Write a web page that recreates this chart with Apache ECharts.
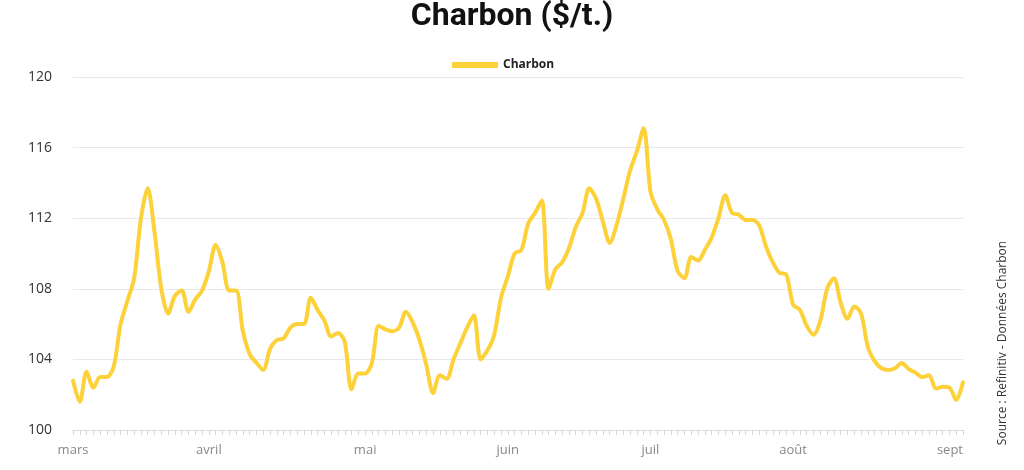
<!DOCTYPE html>
<html>
<head>
<meta charset="utf-8">
<script src="https://cdn.jsdelivr.net/npm/echarts@6/dist/echarts.min.js"></script>
<style>
  html, body { margin: 0; padding: 0; background: #fff; }
  #chart { width: 1024px; height: 470px; }
</style>
</head>
<body>
<div id="chart"></div>
<script>
// Series values (one per trading day)
const charbon = [
  102.8, 101.6, 103.3, 102.4, 103.0, 103.0, 103.6, 106.0, 107.3, 108.6,
  112.0, 113.7, 111.2, 108.0, 106.6, 107.6, 107.9, 106.7, 107.4, 107.9,
  109.0, 110.5, 109.5, 107.9, 107.9, 105.6, 104.3, 103.8, 103.4, 104.6,
  105.1, 105.2, 105.8, 106.0, 106.0, 107.5, 106.8, 106.2, 105.3, 105.5,
  105.0, 102.3, 103.2, 103.2, 103.8, 105.9, 105.7, 105.6, 105.8, 106.7,
  106.1, 105.1, 103.7, 102.1, 103.1, 102.9, 104.0, 104.9, 105.8, 106.5,
  104.0, 104.5, 105.4, 107.5, 108.7, 110.0, 110.2, 111.7, 112.3, 113.0,
  108.0, 109.1, 109.5, 110.3, 111.5, 112.3, 113.7, 113.1, 111.8, 110.6,
  111.6, 113.1, 114.7, 115.8, 117.1, 113.5, 112.5, 111.9, 110.8, 109.0,
  108.6, 109.8, 109.6, 110.2, 110.9, 112.0, 113.3, 112.3, 112.2, 111.9,
  111.9, 111.6, 110.4, 109.5, 108.9, 108.8, 107.1, 106.8, 105.9, 105.4,
  106.2, 108.0, 108.6, 107.2, 106.3, 107.0, 106.6, 104.7, 103.9, 103.5,
  103.4, 103.5, 103.8, 103.45, 103.25, 103.0, 103.1, 102.35, 102.45, 102.4,
  101.7, 102.7
];
// Category = trading-day index
const categories = charbon.map((_, i) => String(i));
// Month tick labels and the trading-day index at which they appear
const monthTicks = [0, 20, 43, 64, 85, 106, 131];
const monthLabels = ['mars', 'avril', 'mai', 'juin', 'juil', 'août', 'sept'];
// Y axis ticks
const yMin = 100, yMax = 120, yStep = 4;

const chart = echarts.init(document.getElementById('chart'), null, { renderer: 'canvas' });
chart.setOption({
  animation: false,
  backgroundColor: '#ffffff',
  title: {
    text: 'Charbon ($/t.)',
    left: 'center',
    top: -4,
    textStyle: { fontFamily: 'Roboto', fontWeight: 'bold', fontSize: 32, color: '#111' }
  },
  legend: {
    top: 54,
    left: 447,
    itemWidth: 46,
    itemHeight: 6,
    itemGap: 10,
    icon: 'rect',
    textStyle: { fontFamily: 'Open Sans', fontWeight: 'bold', fontSize: 12, color: '#222' },
    data: ['Charbon']
  },
  grid: { left: 73, right: 61, top: 77, bottom: 40, containLabel: false },
  xAxis: {
    type: 'category',
    data: categories,
    boundaryGap: false,
    axisLine: { show: true, lineStyle: { color: '#dddddd', width: 1 } },
    axisTick: { show: true, interval: 0, length: 5, lineStyle: { color: '#d6d6d6' } },
    axisLabel: {
      interval: (idx) => monthTicks.indexOf(idx) >= 0,
      formatter: (val, idx) => {
        const k = monthTicks.indexOf(Number(val));
        return k >= 0 ? monthLabels[k] : '';
      },
      color: '#888888',
      fontFamily: 'Open Sans',
      fontSize: 13,
      margin: 14,
      showMinLabel: true,
      showMaxLabel: true,
      alignMaxLabel: 'right'
    },
    splitLine: { show: false }
  },
  yAxis: {
    type: 'value',
    min: yMin,
    max: yMax,
    interval: yStep,
    axisLine: { show: false },
    axisTick: { show: false },
    axisLabel: { color: '#333333', fontFamily: 'Open Sans', fontSize: 14, margin: 21 },
    splitLine: { show: true, lineStyle: { color: '#e8e8e8', width: 1 } }
  },
  series: [{
    name: 'Charbon',
    type: 'line',
    data: charbon,
    smooth: 0.3,
    showSymbol: false,
    symbol: 'none',
    lineStyle: { color: '#FDD13A', width: 4, cap: 'round', join: 'round' },
    itemStyle: { color: '#FDD13A' }
  }],
  graphic: [{
    type: 'text',
    x: 1003,
    y: 343,
    rotation: Math.PI / 2,
    style: {
      text: 'Source : Refinitiv - Données Charbon',
      fill: '#333333',
      font: '12px "Open Sans"',
      align: 'center',
      verticalAlign: 'middle'
    }
  }]
});
</script>
</body>
</html>
